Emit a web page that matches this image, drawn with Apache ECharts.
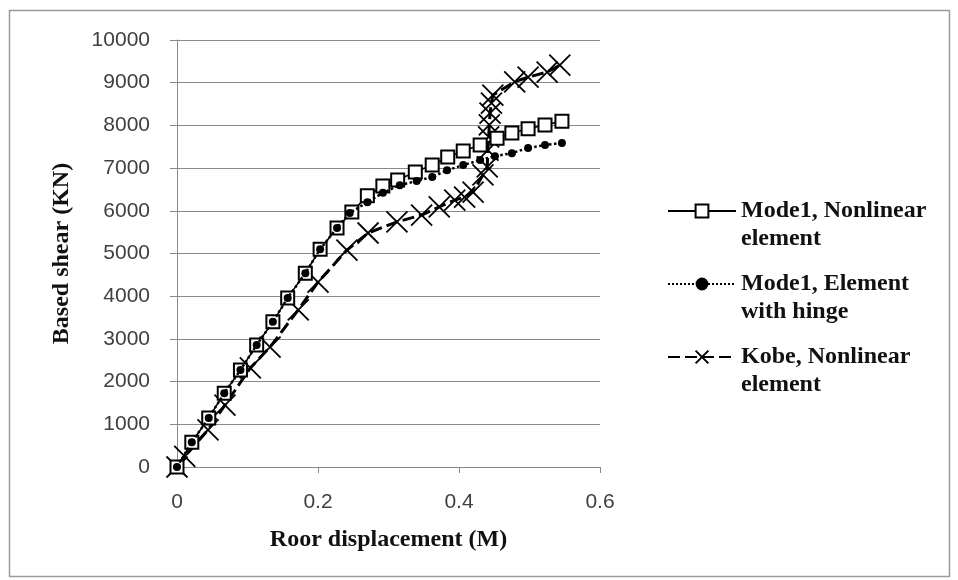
<!DOCTYPE html>
<html>
<head>
<meta charset="utf-8">
<script src="https://cdn.jsdelivr.net/npm/echarts@6/dist/echarts.min.js"></script>
<style>
  html, body { margin: 0; padding: 0; background: #fff; }
  #chart { width: 958px; height: 580px; }
</style>
</head>
<body>
<div id="chart"></div>
<script>
// Roof displacement (M) and base shear (KN)
const nonlinearX = [0, 0.021, 0.045, 0.067, 0.09, 0.113, 0.136, 0.157, 0.182, 0.203, 0.227, 0.248, 0.27, 0.292, 0.313, 0.338, 0.362, 0.384, 0.406, 0.43, 0.454, 0.475, 0.498, 0.522, 0.546];
const nonlinearY = [0, 580, 1150, 1730, 2270, 2860, 3400, 3960, 4540, 5100, 5600, 5970, 6350, 6580, 6720, 6910, 7070, 7260, 7400, 7540, 7700, 7820, 7920, 8010, 8100];

const hingeX = [0, 0.021, 0.045, 0.067, 0.09, 0.113, 0.136, 0.157, 0.182, 0.203, 0.227, 0.245, 0.27, 0.292, 0.316, 0.34, 0.362, 0.383, 0.406, 0.43, 0.451, 0.475, 0.498, 0.522, 0.546];
const hingeY = [0, 580, 1150, 1730, 2270, 2860, 3400, 3960, 4540, 5100, 5600, 5950, 6200, 6420, 6600, 6700, 6790, 6950, 7070, 7190, 7280, 7350, 7470, 7540, 7590];

const kobeX = [0, 0.011, 0.044, 0.068, 0.104, 0.132, 0.172, 0.2, 0.241, 0.271, 0.312, 0.347, 0.372, 0.394, 0.408, 0.42, 0.434, 0.44, 0.441, 0.442, 0.443, 0.444, 0.446, 0.448, 0.479, 0.498, 0.525, 0.543];
const kobeY = [0, 250, 870, 1450, 2320, 2810, 3680, 4330, 5080, 5480, 5740, 5900, 6090, 6250, 6320, 6440, 6840, 7030, 7420, 7730, 8010, 8290, 8520, 8710, 9020, 9130, 9250, 9410];

const seriesNames = ["Mode1, Nonlinear\nelement", "Mode1, Element\nwith hinge", "Kobe, Nonlinear\nelement"];
const xTicks = [0, 0.2, 0.4, 0.6];

function pairs(xs, ys) {
  return xs.map((x, i) => [x, ys[i]]);
}

const chart = echarts.init(document.getElementById("chart"), null, { renderer: "canvas" });

const tickFont = { fontFamily: "Liberation Sans", fontSize: 21, color: "#404040" };
const titleFont = { fontFamily: "Liberation Serif", fontWeight: "bold", fontSize: 24, color: "#111" };

const option = {
  animation: false,
  backgroundColor: "#fff",
  graphic: [{
    type: "rect",
    shape: { x: 9.5, y: 10.5, width: 940, height: 566 },
    style: { fill: "none", stroke: "#9a9a9a", lineWidth: 1.5 },
    silent: true
  }],
  grid: { left: 177, right: 358, top: 40, bottom: 113 },
  legend: {
    orient: "vertical",
    left: 662,
    top: 164,
    itemWidth: 68,
    itemHeight: 16,
    itemGap: -11,
    data: seriesNames,
    selectedMode: false,
    // empty first line keeps the icon level with the first text line
    formatter: name => "\n" + name,
    textStyle: {
      fontFamily: "Liberation Serif",
      fontWeight: "bold",
      fontSize: 24,
      color: "#111",
      lineHeight: 28
    }
  },
  xAxis: {
    type: "value",
    min: 0,
    max: 0.6,
    interval: 0.2,
    name: "Roor displacement (M)",
    nameLocation: "middle",
    nameGap: 61,
    nameTextStyle: titleFont,
    axisLine: { show: true, lineStyle: { color: "#8a8a8a", width: 1 } },
    axisTick: { show: true, length: 6, inside: false, lineStyle: { color: "#8a8a8a" } },
    axisLabel: {
      ...tickFont,
      margin: 25,
      formatter: v => xTicks.includes(+v.toFixed(1)) ? String(+v.toFixed(1)) : ""
    },
    splitLine: { show: false }
  },
  yAxis: {
    type: "value",
    min: 0,
    max: 10000,
    interval: 1000,
    name: "Based shear (KN)",
    nameLocation: "middle",
    nameGap: 103,
    nameTextStyle: titleFont,
    axisLine: { show: true, lineStyle: { color: "#8a8a8a", width: 1 } },
    axisTick: { show: true, length: 7, lineStyle: { color: "#8a8a8a" } },
    axisLabel: { ...tickFont, margin: 27, formatter: v => String(v) },
    splitLine: { show: true, lineStyle: { color: "#8a8a8a", width: 1 } }
  },
  series: [
    {
      name: seriesNames[0],
      type: "line",
      data: pairs(nonlinearX, nonlinearY),
      symbol: "rect",
      symbolSize: 13,
      showAllSymbol: true,
      lineStyle: { color: "#000", width: 1.6, type: "solid" },
      itemStyle: { color: "#fff", borderColor: "#000", borderWidth: 2 },
      z: 3
    },
    {
      name: seriesNames[1],
      type: "line",
      data: pairs(hingeX, hingeY),
      symbol: "circle",
      symbolSize: 8,
      showAllSymbol: true,
      lineStyle: { color: "#000", width: 2.5, type: "dotted" },
      itemStyle: { color: "#000", borderColor: "#000", borderWidth: 0 },
      z: 4
    },
    {
      name: seriesNames[2],
      type: "line",
      data: pairs(kobeX, kobeY),
      symbol: "path://M0,0L10,10M10,0L0,10",
      symbolSize: 21,
      showAllSymbol: true,
      lineStyle: { color: "#000", width: 3, type: [12, 5] },
      itemStyle: { color: "none", borderColor: "#000", borderWidth: 1.8 },
      z: 2
    }
  ]
};

chart.setOption(option);
</script>
</body>
</html>
